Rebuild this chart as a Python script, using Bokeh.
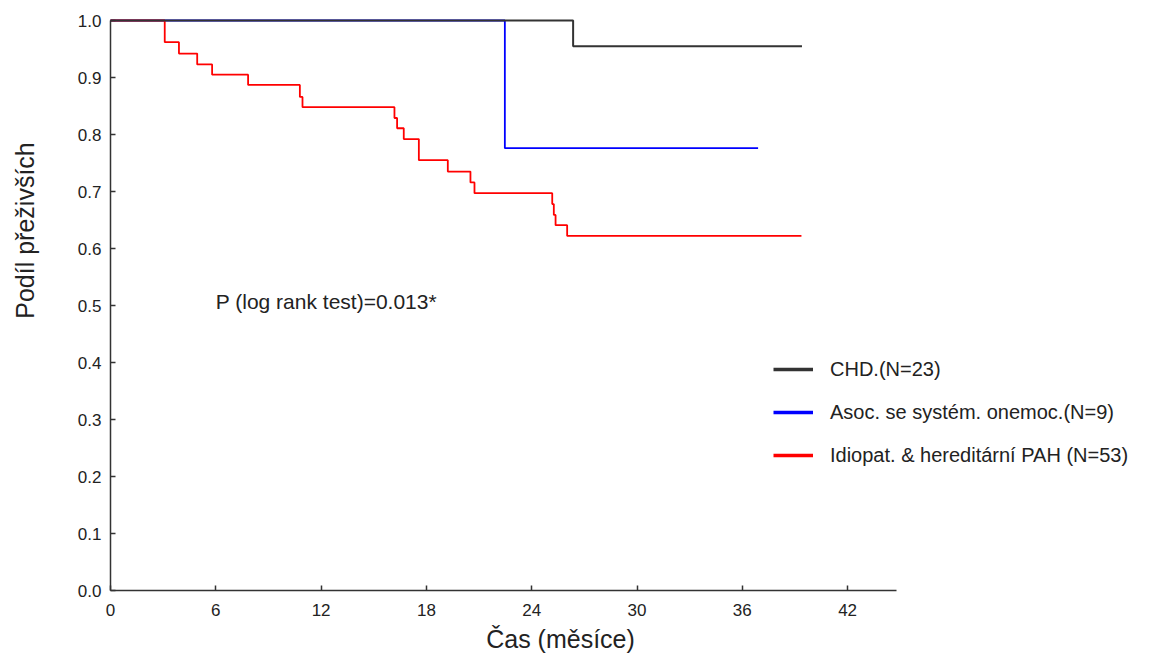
import math
from bokeh.plotting import figure
from bokeh.models import (Range1d, FixedTicker, PrintfTickFormatter, Label,
                          Legend, LegendItem)
from bokeh.embed import file_html
from bokeh.resources import INLINE

# ---- data (Kaplan-Meier step curves) ----
chd_time = [0.0, 26.36, 39.4]
chd_surv = [1.0, 0.955, 0.955]

asoc_time = [0.0, 22.47, 36.9]
asoc_surv = [1.0, 0.776, 0.776]

ipah_time = [0.0, 3.09, 3.9, 4.94, 5.79, 7.84, 10.79, 10.94, 16.18, 16.33,
             16.71, 17.57, 19.22, 20.51, 20.74, 25.17, 25.26, 25.36, 26.02, 39.37]
ipah_surv = [1.0, 0.962, 0.942, 0.923, 0.905, 0.887, 0.866, 0.848, 0.829, 0.811,
             0.792, 0.755, 0.735, 0.716, 0.697, 0.678, 0.659, 0.641, 0.622, 0.622]

x_ticks = [0, 6, 12, 18, 24, 30, 36, 42]
y_ticks = [0.0, 0.1, 0.2, 0.3, 0.4, 0.5, 0.6, 0.7, 0.8, 0.9, 1.0]

legend_labels = ["CHD.(N=23)", "Asoc. se systém. onemoc.(N=9)",
                 "Idiopat. & hereditární PAH (N=53)"]
colors = ["#333333", "#0000ff", "#ff0000"]

x_title = "Čas (měsíce)"
y_title = "Podíl přeživších"
p_text = "P (log rank test)=0.013*"

FONT = "Liberation Sans"
TXT = "#222222"

X_AXIS_END = 44.8

# frame covers the whole canvas; axes are pinned at data 0
p = figure(width=1158, height=657, output_backend="svg", toolbar_location=None,
           x_range=Range1d(-6.268, 59.715), y_range=Range1d(-0.1175, 1.0351),
           min_border_left=0, min_border_right=0,
           min_border_top=0, min_border_bottom=0)
p.outline_line_color = None
p.grid.visible = False
p.background_fill_color = "white"
p.border_fill_color = "white"

for ax in (p.xaxis[0], p.yaxis[0]):
    ax.fixed_location = 0
    ax.axis_line_color = "#333333"
    ax.axis_line_width = 1.5
    ax.major_tick_line_color = "#333333"
    ax.major_tick_line_width = 1.5
    ax.major_tick_in = 5
    ax.major_tick_out = 0
    ax.minor_tick_line_color = None
    ax.major_label_text_font = FONT
    ax.major_label_text_font_size = "17px"
    ax.major_label_text_color = TXT

p.xaxis.ticker = FixedTicker(ticks=x_ticks)
p.xaxis.bounds = (0, X_AXIS_END)
p.xaxis.major_label_standoff = 13
p.yaxis.ticker = FixedTicker(ticks=y_ticks)
p.yaxis.bounds = (0, 1.0)
p.yaxis.formatter = PrintfTickFormatter(format="%.1f")
p.yaxis.major_label_standoff = 9

series = [(chd_time, chd_surv), (asoc_time, asoc_surv), (ipah_time, ipah_surv)]

# legend-only (hidden) copies with thicker lines for the legend samples
leg_r = [p.step(t, s, mode="after", line_color=c, line_width=3.5, visible=False)
         for (t, s), c in zip(series, colors)]

r_asoc = p.step(asoc_time, asoc_surv, mode="after", line_color=colors[1], line_width=1.8)
r_ipah = p.step(ipah_time, ipah_surv, mode="after", line_color=colors[2], line_width=1.8)
r_chd = p.step(chd_time, chd_surv, mode="after", line_color=colors[0], line_width=2)

legend = Legend(items=[LegendItem(label=l, renderers=[r]) for l, r in zip(legend_labels, leg_r)],
                location=(773, 190.5), orientation="vertical",
                padding=0, margin=0, spacing=20,
                glyph_width=40, glyph_height=20, label_height=20, label_standoff=17,
                label_text_font=FONT, label_text_font_size="20px",
                label_text_color=TXT, inactive_fill_alpha=0,
                border_line_color=None, background_fill_alpha=0)
p.add_layout(legend)

p.add_layout(Label(x=6.0, y=0.507, text=p_text, text_font=FONT, text_font_size="21px",
                   text_color=TXT, text_align="left", text_baseline="middle"))
p.add_layout(Label(x=25.64, y=-0.0842, text=x_title, text_font=FONT, text_font_size="25px",
                   text_color=TXT, text_align="center", text_baseline="middle"))
p.add_layout(Label(x=-4.9, y=0.6316, text=y_title, text_font=FONT, text_font_size="25px",
                   text_color=TXT, text_align="center", text_baseline="middle",
                   angle=math.pi / 2))

open("out.html", "w").write(file_html(p, INLINE))
